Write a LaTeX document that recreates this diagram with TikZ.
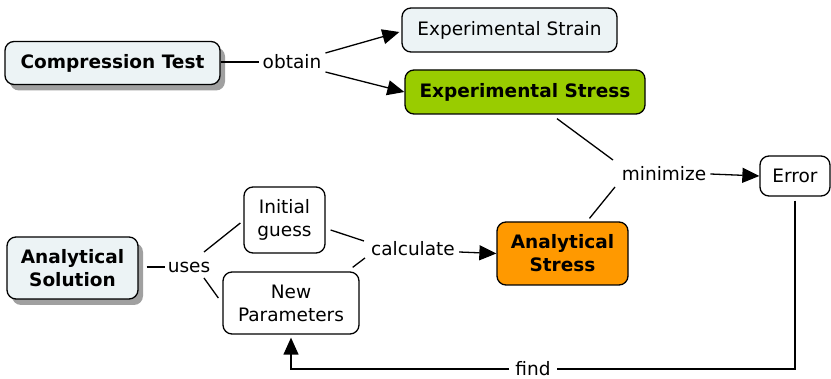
\documentclass[tikz,border=0pt]{standalone}
\usepackage{fontspec}
\setmainfont{DejaVu Sans}
\usetikzlibrary{arrows.meta,shadows}
\definecolor{boxfill}{RGB}{236,243,245}
\definecolor{greenfill}{RGB}{153,204,0}
\definecolor{orangefill}{RGB}{255,153,0}
\definecolor{shadowgray}{RGB}{160,160,160}
\begin{document}
\begin{tikzpicture}[x=1pt,y=-1pt,
  every node/.style={font=\fontsize{18.5}{23}\selectfont},
  box/.style={draw=black, line width=1.3pt, rounded corners=9pt, align=center, inner sep=0pt},
  shade box/.style={box, fill=boxfill, drop shadow={shadow xshift=5pt, shadow yshift=-6pt, fill=shadowgray, opacity=1}},
  lbl/.style={inner sep=4pt},
  conn/.style={line width=1.3pt},
  arr/.style={conn, -{Triangle[length=17pt,width=15pt]}}
]
\useasboundingbox (0,0) rectangle (831,379);

% nodes
\node[shade box, minimum width=215pt, minimum height=43pt, font=\fontsize{18.5}{23}\selectfont\bfseries] (ct) at (112.5,63) {Compression Test};
\node[box, fill=boxfill, minimum width=215pt, minimum height=44pt] (es) at (509.5,30) {Experimental Strain};
\node[box, fill=greenfill, minimum width=240pt, minimum height=44pt, font=\fontsize{18.5}{23}\selectfont\bfseries] (ess) at (525,92) {Experimental Stress};
\node[box, fill=white, minimum width=70pt, minimum height=40pt] (err) at (795,176) {Error};
\node[box, fill=orangefill, minimum width=131pt, minimum height=63pt, font=\fontsize{18.5}{23}\selectfont\bfseries] (as) at (562.5,253.5) {Analytical\\Stress};
\node[box, fill=white, minimum width=81pt, minimum height=66pt] (ig) at (284.5,220) {Initial\\guess};
\node[box, fill=white, minimum width=136pt, minimum height=62pt] (np) at (291,303) {New\\Parameters};
\node[shade box, minimum width=131pt, minimum height=62pt, font=\fontsize{18.5}{23}\selectfont\bfseries] (asol) at (72.5,268) {Analytical\\Solution};

% labels
\node[lbl] (obtain) at (292,62) {obtain};
\node[lbl] (minimize) at (664,174) {minimize};
\node[lbl] (calc) at (413,249) {calculate};
\node[lbl, inner sep=3pt] (uses) at (189,267) {uses};
\node[lbl, inner sep=2pt] (find) at (533,369) {find};

% connectors
\draw[conn] (ct.east |- obtain.west) -- (obtain.west);
\draw[arr] ([shift={(0,-9)}]obtain.east) -- ([shift={(-2,2)}]es.west);
\draw[arr] ([shift={(0,10)}]obtain.east) -- (ess.west);

\draw[conn] ([shift={(32,4)}]ess.south) -- ([shift={(-51,-14)}]minimize.center);
\draw[conn] ([shift={(-49,13)}]minimize.center) -- ([shift={(27,-3)}]as.north);
\draw[arr] (minimize.east) -- (err.west);

\draw[conn] ([shift={(0,4)}]err.south) -- (err.south |- find.east) -- ([shift={(4,0)}]find.east);
\draw[arr] ([shift={(-4,0)}]find.west) -- (find.west -| np.south) -- ([shift={(0,3)}]np.south);

\draw[conn] ([shift={(5,10)}]ig.east) -- ([shift={(-3,-8)}]calc.west);
\draw[conn] ([shift={(-7,-4)}]np.north east) -- ([shift={(-2,9)}]calc.west);
\draw[arr] ([shift={(0,3)}]calc.east) -- (as.west);

\draw[conn] ([shift={(8,-1)}]asol.east) -- (uses.west);
\draw[conn] ([shift={(15,-15)}]uses.center) -- ([shift={(-3,3)}]ig.west);
\draw[conn] ([shift={(15,11)}]uses.center) -- ([shift={(-4,-5)}]np.west);
\end{tikzpicture}
\end{document}
